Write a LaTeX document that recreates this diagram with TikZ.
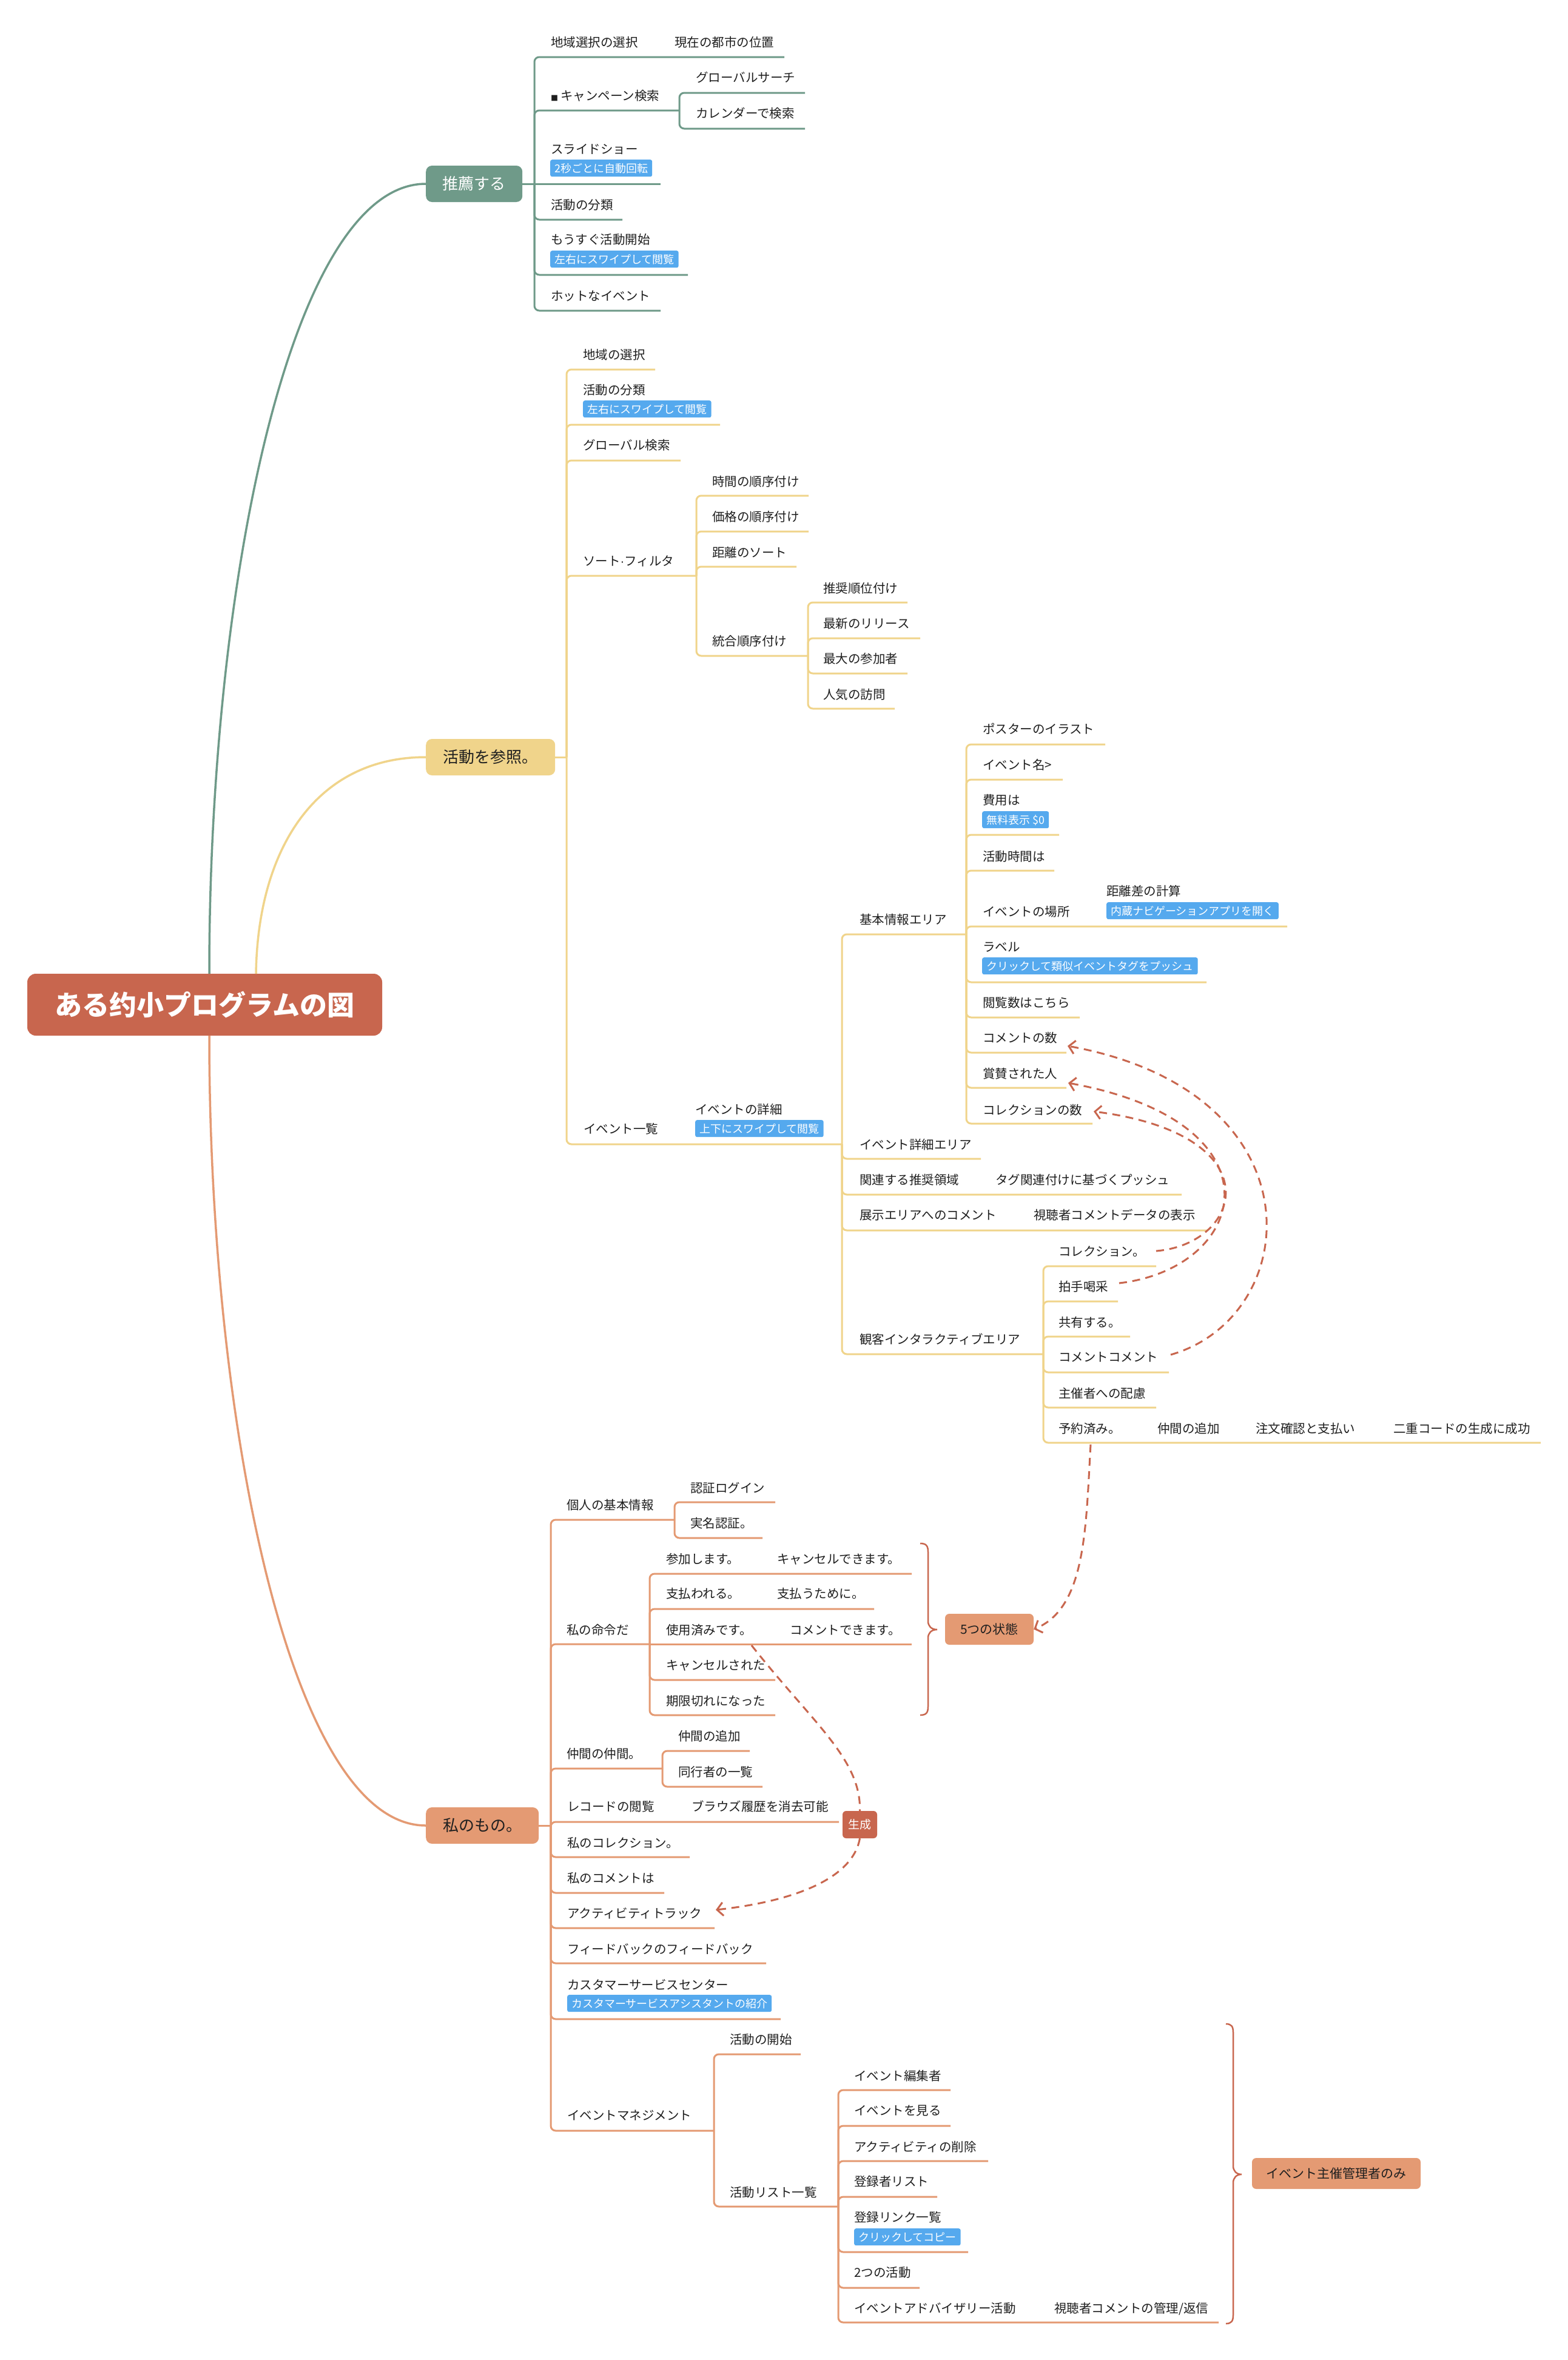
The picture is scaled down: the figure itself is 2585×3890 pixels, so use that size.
\documentclass[tikz,border=0pt]{standalone}
\usepackage{fontspec}
\setmainfont{Noto Sans CJK JP}
\newfontfamily\latinf{Liberation Sans}
\usetikzlibrary{arrows.meta}
\definecolor{cgreen}{HTML}{6F9A89}
\definecolor{cyellow}{HTML}{F0D48B}
\definecolor{corange}{HTML}{E49A73}
\definecolor{crust}{HTML}{C8664E}
\definecolor{cblue}{HTML}{55A9EE}
\definecolor{ctext}{HTML}{1F1F1F}
\newcommand\mmU[5]{\draw[#1,ulstyle] (#2,#3) -- (#2,#4) -- (#5,#4);}
\newcommand\mmH[4]{\draw[#1,ulstyle] (#2,#3) -- (#4,#3);}
\newcommand\mmT[4]{\node[txt] (#1) at (#2,#3) {#4};}
\newcommand\mmG[4]{\node[tagbox] (#1) at (#2,#3) {#4};}
\tikzset{
  ulstyle/.style={line width=3pt, rounded corners=8pt},
  mainline/.style={line width=3.5pt},
  txt/.style={anchor=west, inner sep=0pt, text=ctext, font=\fontsize{20.5pt}{24pt}\selectfont, text height=18pt, text depth=2.5pt},
  tagbox/.style={anchor=north west, fill=cblue, text=white, rounded corners=3pt, inner xsep=7pt, inner ysep=5pt, font=\fontsize{18pt}{20pt}\selectfont, text height=15.8pt, text depth=2.2pt},
  lvone/.style={anchor=west, rounded corners=10pt, minimum height=60pt, inner sep=0pt, font=\fontsize{26pt}{30pt}\selectfont, text height=22.9pt, text depth=3.1pt},
  tailbox/.style={rounded corners=7pt, inner sep=0pt, font=\fontsize{21pt}{24pt}\selectfont, text height=18.5pt, text depth=2.5pt},
  rel/.style={draw=crust, line width=3pt, dash pattern=on 13pt off 9pt},
  reltip/.style={-{Straight Barb[length=10pt,width=22pt]}},
  bracestyle/.style={draw=crust, line width=2.5pt}
}
\begin{document}
\begin{tikzpicture}[x=1pt,y=-1pt]
\fill[white] (0,0) rectangle (2585,3890);
\useasboundingbox (0,0) rectangle (2585,3890);

% ---------------- root and main branches
\node[fill=crust, rounded corners=14pt, minimum width=585pt, minimum height=102pt, inner sep=0pt, text=white, font=\fontsize{45pt}{50pt}\selectfont\bfseries] (root) at (337.5,1656) {ある约小プログラムの図};
\node[lvone, fill=cgreen, text=white, minimum width=159pt] (b1) at (702,303) {推薦する};
\node[lvone, fill=cyellow, text=ctext, minimum width=213pt] (b2) at (702,1248) {活動を参照。};
\node[lvone, fill=corange, text=ctext, minimum width=186pt] (b3) at (702,3009) {私のもの。};
\coordinate (rg) at (345,1605);
\coordinate (ry) at (422,1605);
\coordinate (ro) at (345,1707);
\draw[cgreen, mainline] (rg) .. controls (345,960) and (480,303) .. (b1.west);
\draw[cyellow, mainline] (ry) .. controls (425,1400) and (520,1248) .. (b2.west);
\draw[corange, mainline] (ro) .. controls (345,2350) and (480,3009) .. (b3.west);

% ---------------- green branch
\draw[cgreen, ulstyle] (b1.east) -- (881,303);
\mmU{cgreen}{881}{303}{94}{1293}
\mmU{cgreen}{881}{303}{182}{1120}
\mmU{cgreen}{1120}{182}{153}{1327}
\mmU{cgreen}{1120}{182}{212}{1327}
\mmH{cgreen}{881}{303}{1089}
\mmU{cgreen}{881}{303}{362}{1026}
\mmU{cgreen}{881}{303}{453}{1134}
\mmU{cgreen}{881}{303}{512}{1089}
\mmT{g1}{908}{70}{地域選択の選択}
\mmT{g1a}{1112}{70}{現在の都市の位置}
\mmT{g2}{908}{158}{\makebox[16pt][l]{\raisebox{-1pt}{\fontsize{12pt}{14pt}\selectfont ■}}キャンペーン検索}
\mmT{g2a}{1147}{128}{グローバルサーチ}
\mmT{g2b}{1147}{187}{カレンダーで検索}
\mmT{g3}{908}{246}{スライドショー}
\mmG{g3t}{907}{263}{2秒ごとに自動回転}
\mmT{g4}{908}{338}{活動の分類}
\mmT{g5}{908}{395}{もうすぐ活動開始}
\mmG{g5t}{907}{413}{左右にスワイプして閲覧}
\mmT{g6}{908}{488}{ホットなイベント}

% ---------------- yellow branch
\draw[cyellow, ulstyle] (b2.east) -- (934,1248);
\mmU{cyellow}{934}{1248}{609}{1080}
\mmU{cyellow}{934}{1248}{700}{1187}
\mmU{cyellow}{934}{1248}{759}{1122}
\mmU{cyellow}{934}{1248}{949}{1148}
\mmU{cyellow}{1148}{949}{817}{1333}
\mmU{cyellow}{1148}{949}{876}{1333}
\mmU{cyellow}{1148}{949}{934}{1313}
\mmU{cyellow}{1148}{949}{1081}{1332}
\mmU{cyellow}{1332}{1081}{993}{1496}
\mmU{cyellow}{1332}{1081}{1052}{1517}
\mmU{cyellow}{1332}{1081}{1110}{1496}
\mmU{cyellow}{1332}{1081}{1168}{1475}
\mmU{cyellow}{934}{1248}{1886}{1388}
\mmU{cyellow}{1388}{1886}{1540}{1593}
\mmU{cyellow}{1388}{1886}{1910}{1617}
\mmU{cyellow}{1388}{1886}{1969}{1948}
\mmU{cyellow}{1388}{1886}{2028}{1990}
\mmU{cyellow}{1388}{1886}{2232}{1720}
\mmU{cyellow}{1593}{1540}{1227}{1822}
\mmU{cyellow}{1593}{1540}{1285}{1752}
\mmU{cyellow}{1593}{1540}{1376}{1746}
\mmU{cyellow}{1593}{1540}{1435}{1738}
\mmU{cyellow}{1593}{1540}{1527}{2122}
\mmU{cyellow}{1593}{1540}{1619}{1989}
\mmU{cyellow}{1593}{1540}{1677}{1780}
\mmU{cyellow}{1593}{1540}{1735}{1758}
\mmU{cyellow}{1593}{1540}{1793}{1758}
\mmU{cyellow}{1593}{1540}{1852}{1801}
\mmU{cyellow}{1720}{2232}{2087}{1906}
\mmU{cyellow}{1720}{2232}{2145}{1843}
\mmU{cyellow}{1720}{2232}{2203}{1863}
\mmU{cyellow}{1720}{2232}{2262}{1927}
\mmU{cyellow}{1720}{2232}{2320}{1906}
\mmU{cyellow}{1720}{2232}{2378}{2540}

\mmT{y1}{961}{585}{地域の選択}
\mmT{y2}{961}{643}{活動の分類}
\mmG{y2t}{961}{660}{左右にスワイプして閲覧}
\mmT{y3}{961}{734}{グローバル検索}
\mmT{y4}{961}{925}{ソート{\latinf ·}フィルタ}
\mmT{y41}{1174}{794}{時間の順序付け}
\mmT{y42}{1174}{852}{価格の順序付け}
\mmT{y43}{1174}{911}{距離のソート}
\mmT{y44}{1174}{1057}{統合順序付け}
\mmT{y441}{1357}{970}{推奨順位付け}
\mmT{y442}{1357}{1028}{最新のリリース}
\mmT{y443}{1357}{1086}{最大の参加者}
\mmT{y444}{1357}{1145}{人気の訪問}
\mmT{y5}{962}{1861}{イベント一覧}
\mmT{y5a}{1146}{1829}{イベントの詳細}
\mmG{y5t}{1146}{1846}{上下にスワイプして閲覧}
\mmT{y51}{1417}{1516}{基本情報エリア}
\mmT{y511}{1620}{1202}{ポスターのイラスト}
\mmT{y512}{1620}{1261}{イベント名>}
\mmT{y513}{1620}{1319}{費用は}
\mmG{y513t}{1619}{1337}{無料表示 \$0}
\mmT{y514}{1620}{1412}{活動時間は}
\mmT{y515}{1620}{1503}{イベントの場所}
\mmT{y515a}{1824}{1469}{距離差の計算}
\mmG{y515t}{1824}{1487}{内蔵ナビゲーションアプリを開く}
\mmT{y516}{1620}{1561}{ラベル}
\mmG{y516t}{1619}{1578}{クリックして類似イベントタグをプッシュ}
\mmT{y517}{1620}{1653}{閲覧数はこちら}
\mmT{y518}{1620}{1711}{コメントの数}
\mmT{y519}{1620}{1770}{賞賛された人}
\mmT{y5110}{1620}{1830}{コレクションの数}
\mmT{y52}{1417}{1887}{イベント詳細エリア}
\mmT{y53}{1417}{1945}{関連する推奨領域}
\mmT{y53a}{1641}{1945}{タグ関連付けに基づくプッシュ}
\mmT{y54}{1417}{2003}{展示エリアへのコメント}
\mmT{y54a}{1704}{2003}{視聴者コメントデータの表示}
\mmT{y55}{1417}{2208}{観客インタラクティブエリア}
\mmT{y551}{1745}{2063}{コレクション。}
\mmT{y552}{1745}{2121}{拍手喝采}
\mmT{y553}{1745}{2180}{共有する。}
\mmT{y554}{1745}{2237}{コメントコメント}
\mmT{y555}{1745}{2297}{主催者への配慮}
\mmT{y556}{1745}{2355}{予約済み。}
\mmT{y556a}{1908}{2355}{仲間の追加}
\mmT{y556b}{2070}{2355}{注文確認と支払い}
\mmT{y556c}{2297}{2355}{二重コードの生成に成功}

% ---------------- orange branch
\draw[corange, ulstyle] (b3.east) -- (908,3009);
\mmU{corange}{908}{3009}{2505}{1112}
\mmU{corange}{1112}{2505}{2476}{1278}
\mmU{corange}{1112}{2505}{2535}{1257}
\mmU{corange}{908}{3009}{2710}{1071}
\mmU{corange}{1071}{2710}{2594}{1503}
\mmU{corange}{1071}{2710}{2652}{1441}
\mmH{corange}{1071}{2710}{1503}
\mmU{corange}{1071}{2710}{2769}{1278}
\mmU{corange}{1071}{2710}{2827}{1278}
\mmU{corange}{908}{3009}{2915}{1092}
\mmU{corange}{1092}{2915}{2886}{1236}
\mmU{corange}{1092}{2915}{2945}{1257}
\mmU{corange}{908}{3009}{3003}{1383}
\mmU{corange}{908}{3009}{3061}{1137}
\mmU{corange}{908}{3009}{3120}{1095}
\mmU{corange}{908}{3009}{3178}{1178}
\mmU{corange}{908}{3009}{3236}{1263}
\mmU{corange}{908}{3009}{3328}{1287}
\mmU{corange}{908}{3009}{3512}{1177}
\mmU{corange}{1177}{3512}{3386}{1320}
\mmU{corange}{1177}{3512}{3637}{1382}
\mmU{corange}{1382}{3637}{3445}{1567}
\mmU{corange}{1382}{3637}{3504}{1567}
\mmU{corange}{1382}{3637}{3562}{1629}
\mmU{corange}{1382}{3637}{3621}{1545}
\mmU{corange}{1382}{3637}{3712}{1596}
\mmU{corange}{1382}{3637}{3771}{1516}
\mmU{corange}{1382}{3637}{3828}{2009}

\mmT{o1}{934}{2481}{個人の基本情報}
\mmT{o11}{1138}{2453}{認証ログイン}
\mmT{o12}{1138}{2511}{実名認証。}
\mmT{o2}{934}{2687}{私の命令だ}
\mmT{o21}{1098}{2570}{参加します。}
\mmT{o21a}{1281}{2570}{キャンセルできます。}
\mmT{o22}{1098}{2627}{支払われる。}
\mmT{o22a}{1281}{2627}{支払うために。}
\mmT{o23}{1098}{2687}{使用済みです。}
\mmT{o23a}{1302}{2687}{コメントできます。}
\mmT{o24}{1098}{2745}{キャンセルされた}
\mmT{o25}{1098}{2804}{期限切れになった}
\mmT{o3}{934}{2891}{仲間の仲間。}
\mmT{o31}{1118}{2862}{仲間の追加}
\mmT{o32}{1118}{2921}{同行者の一覧}
\mmT{o4}{935}{2978}{レコードの閲覧}
\mmT{o4a}{1140}{2978}{ブラウズ履歴を消去可能}
\mmT{o5}{935}{3038}{私のコレクション。}
\mmT{o6}{935}{3096}{私のコメントは}
\mmT{o7}{935}{3154}{アクティビティトラック}
\mmT{o8}{935}{3213}{フィードバックのフィードバック}
\mmT{o9}{935}{3272}{カスタマーサービスセンター}
\mmG{o9t}{935}{3288}{カスタマーサービスアシスタントの紹介}
\mmT{o10}{935}{3487}{イベントマネジメント}
\mmT{o101}{1203}{3362}{活動の開始}
\mmT{o102}{1203}{3614}{活動リスト一覧}
\mmT{o1021}{1408}{3422}{イベント編集者}
\mmT{o1022}{1408}{3479}{イベントを見る}
\mmT{o1023}{1408}{3539}{アクティビティの削除}
\mmT{o1024}{1408}{3596}{登録者リスト}
\mmT{o1025}{1408}{3655}{登録リンク一覧}
\mmG{o1025t}{1408}{3673}{クリックしてコピー}
\mmT{o1026}{1408}{3746}{2つの活動}
\mmT{o1027}{1408}{3805}{イベントアドバイザリー活動}
\mmT{o1027a}{1738}{3805}{視聴者コメントの管理/返信}

% ---------------- summary boxes and braces
\node[tailbox, fill=corange, text=ctext, minimum width=146pt, minimum height=51pt] (st5) at (1631,2685.5) {5つの状態};
\node[tailbox, fill=corange, text=ctext, minimum width=278pt, minimum height=51pt] (adm) at (2203,3582.5) {イベント主催管理者のみ};
\draw[bracestyle] (1517,2544) .. controls (1527,2544) and (1530,2548) .. (1530,2558) -- (1530,2672)
  .. controls (1530,2680) and (1535,2686) .. (1545,2686)
  .. controls (1535,2686) and (1530,2692) .. (1530,2700) -- (1530,2813)
  .. controls (1530,2823) and (1527,2827) .. (1517,2827);
\draw[bracestyle] (2021,3336) .. controls (2030,3336) and (2033,3340) .. (2033,3350) -- (2033,3570)
  .. controls (2033,3578) and (2038,3584) .. (2047,3584)
  .. controls (2038,3584) and (2033,3590) .. (2033,3598) -- (2033,3816)
  .. controls (2033,3826) and (2030,3830) .. (2021,3830);

% ---------------- relation lines
\node[fill=crust, rounded corners=6pt, minimum width=57pt, minimum height=45pt, inner sep=0pt, text=white, font=\fontsize{19pt}{22pt}\selectfont] (gen) at (1417.5,3007.5) {生成};
\coordinate (sA) at (1906,2062);
\coordinate (tA) at (1803,1832);
\coordinate (sB) at (1845,2115);
\coordinate (tB) at (1761,1785);
\coordinate (sC) at (1930,2233);
\coordinate (tC) at (1760,1724);
\coordinate (sD) at (1798,2381);
\coordinate (sE) at (1239,2712);
\coordinate (tF) at (1180,3148);
\draw[rel, reltip] (sA) .. controls (2050,2050) and (2100,1870) .. (tA);
\draw[rel, reltip] (sB) .. controls (2060,2090) and (2120,1850) .. (tB);
\draw[rel, reltip] (sC) .. controls (2150,2170) and (2180,1800) .. (tC);
\draw[rel, reltip] (sD) .. controls (1790,2520) and (1790,2650) .. (st5.east);
\draw[rel] (sE) .. controls (1340,2840) and (1420,2900) .. (gen.north);
\draw[rel, reltip] (gen.south) .. controls (1405,3100) and (1300,3135) .. (tF);
\end{tikzpicture}
\end{document}
